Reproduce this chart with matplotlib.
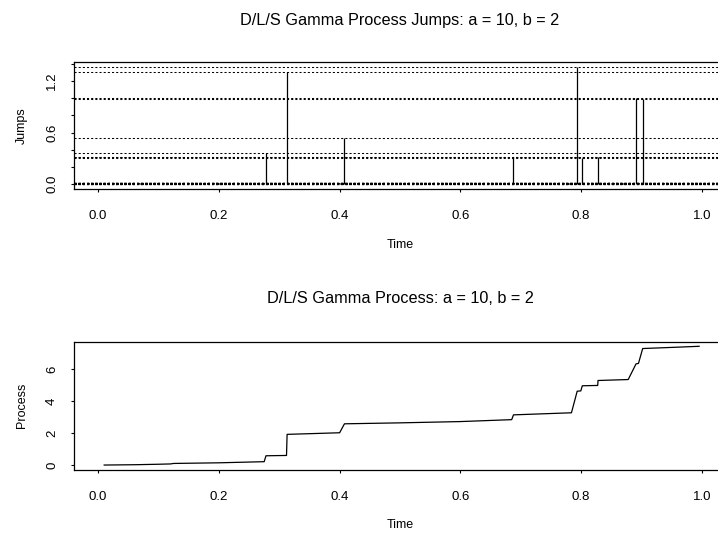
import matplotlib
matplotlib.use("Agg")
import matplotlib.pyplot as plt
import numpy as np

plt.rcParams['font.family'] = ['Liberation Sans', 'DejaVu Sans']

# big jumps of the D/L/S gamma process (time, size)
big_t = [0.278, 0.313, 0.408, 0.688, 0.7935, 0.802, 0.828, 0.891, 0.902]
big_h = [0.364, 1.300, 0.535, 0.322, 1.365, 0.300, 0.318, 1.000, 0.994]

# the many tiny jumps that pile up near zero
small_t = [0.01, 0.04, 0.07, 0.10, 0.12, 0.16, 0.20, 0.24, 0.27, 0.30,
           0.34, 0.37, 0.40, 0.45, 0.50, 0.53, 0.57, 0.61, 0.65, 0.68,
           0.72, 0.75, 0.78, 0.80, 0.82, 0.85, 0.87, 0.88, 0.92, 0.95,
           0.97, 0.99]
small_h = [0.004, 0.008, 0.012, 0.015, 0.020, 0.006, 0.010, 0.014, 0.018, 0.003,
           0.011, 0.016, 0.009, 0.013, 0.007, 0.017, 0.005, 0.012, 0.019, 0.002,
           0.015, 0.010, 0.018, 0.006, 0.008, 0.014, 0.020, 0.011, 0.004, 0.016,
           0.009, 0.013]

# cumulative process
proc_t = [0.010, 0.060, 0.100, 0.120, 0.125, 0.200, 0.275, 0.278, 0.312, 0.313,
          0.400, 0.408, 0.500, 0.600, 0.685, 0.688, 0.784, 0.7935, 0.7995, 0.802,
          0.8275, 0.828, 0.878, 0.891, 0.895, 0.902, 0.950, 0.9955]
proc_v = [0.00, 0.02, 0.05, 0.07, 0.10, 0.14, 0.21, 0.58, 0.60, 1.92,
          2.02, 2.58, 2.64, 2.72, 2.84, 3.14, 3.27, 4.62, 4.64, 4.96,
          4.98, 5.29, 5.35, 6.33, 6.36, 7.29, 7.36, 7.43]

all_t = small_t + big_t
all_h = small_h + big_h

W, H = 718, 537
fig = plt.figure(figsize=(W / 100, H / 100), dpi=100)

left = 74 / W
width = 652 / W
ax1 = fig.add_axes([left, 1 - 189 / H, width, 127 / H])
ax2 = fig.add_axes([left, 1 - 470 / H, width, 128.5 / H])

dotted = (0, (2, 2))

# Jumps panel
for h in all_h:
    ax1.axhline(h, color='black', lw=0.75, linestyle=dotted)
ax1.vlines(all_t, 0, all_h, color='black', lw=0.9)
ax1.set_xlim(-0.04, 1.04)
ax1.set_ylim(-0.055, 1.42)
ax1.set_yticks(np.arange(0, 1.41, 0.2))
ax1.set_yticklabels(['0.0', '', '', '0.6', '', '', '1.2', ''])
ax1.set_ylabel('Jumps', fontsize=9, labelpad=13)
ax1.set_xlabel('Time', fontsize=9, labelpad=12)

# Process panel
ax2.plot(proc_t, proc_v, color='black', lw=0.9)
ax2.set_xlim(-0.04, 1.04)
ax2.set_ylim(-0.31, 7.73)
ax2.set_yticks([0, 2, 4, 6])
ax2.set_ylabel('Process', fontsize=9, labelpad=13)
ax2.set_xlabel('Time', fontsize=9, labelpad=12)

for ax in (ax1, ax2):
    ax.set_xticks(np.arange(0, 1.01, 0.2))
    ax.set_xticklabels(['0.0', '0.2', '0.4', '0.6', '0.8', '1.0'])
    ax.tick_params(direction='out', length=2, width=0.8, labelsize=9.5, pad=13)
    ax.tick_params(axis='y', labelrotation=90, pad=9.5)
    for lab in ax.get_yticklabels():
        lab.set_verticalalignment('center')
    for sp in ax.spines.values():
        sp.set_linewidth(0.9)

fig.text(400 / W, 1 - 25 / H, 'D/L/S Gamma Process Jumps: a = 10, b = 2',
         ha='center', va='baseline', fontsize=11.7)
fig.text(400 / W, 1 - 303 / H, 'D/L/S Gamma Process: a = 10, b = 2',
         ha='center', va='baseline', fontsize=11.7)

fig.savefig('out.png', dpi=100)
